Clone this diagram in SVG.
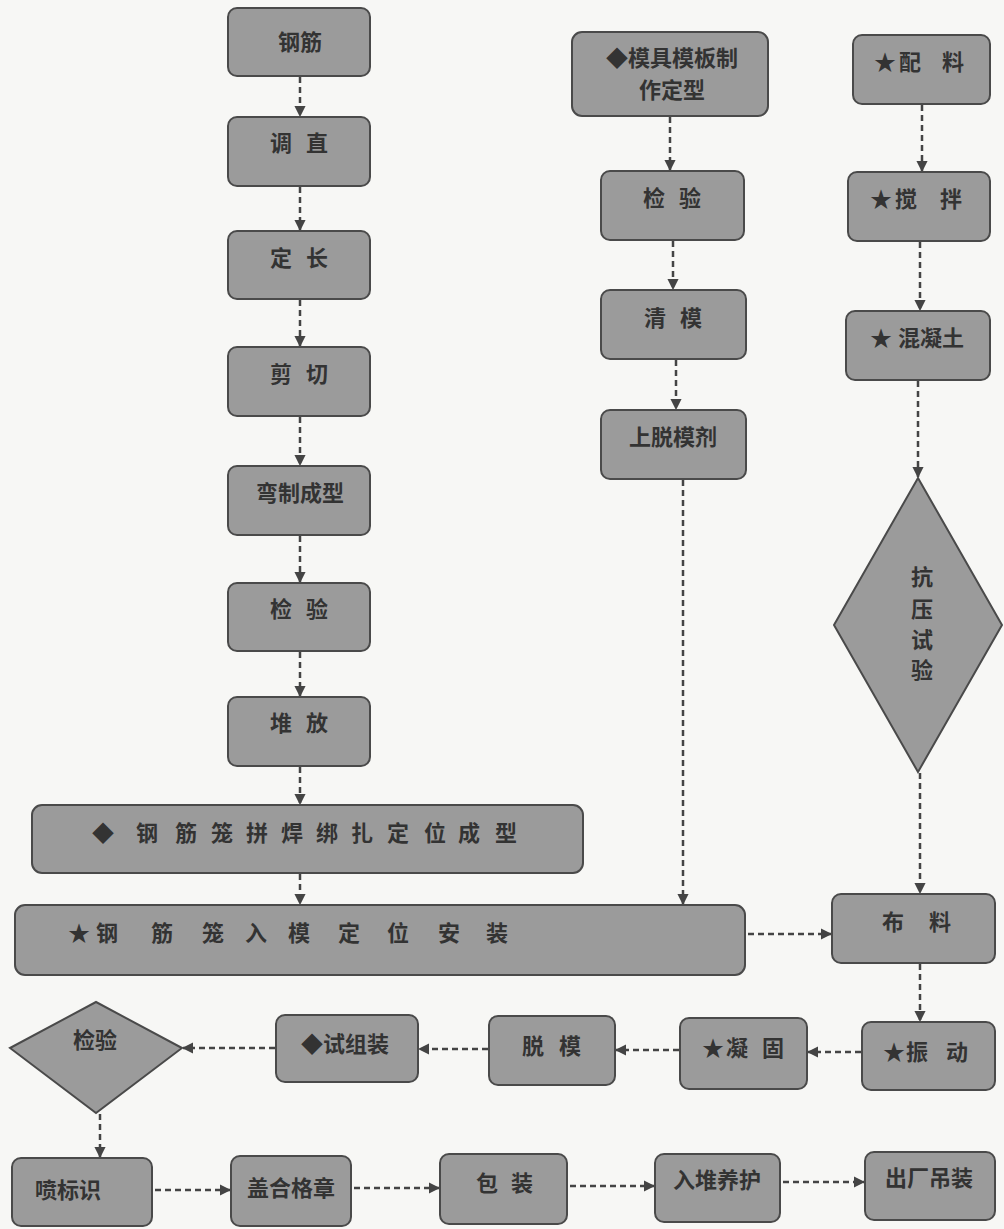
<svg xmlns="http://www.w3.org/2000/svg" width="1004" height="1229" viewBox="0 0 1004 1229">
<defs>
<style>
.n{fill:#9b9b9b;stroke:#4a4a4a;stroke-width:2}
.t{font-family:"Liberation Sans","Noto Sans CJK SC",sans-serif;font-size:22px;font-weight:bold;fill:#333;text-anchor:middle;dominant-baseline:central}
.w{letter-spacing:4px}
.c{fill:none;stroke:#444;stroke-width:2.5;stroke-dasharray:6 4}
</style>
<marker id="ah" viewBox="0 0 10 10" refX="9" refY="5" markerWidth="4.6" markerHeight="4.6" orient="auto" markerUnits="strokeWidth">
<path d="M0,0 L10,5 L0,10 Z" fill="#444"/>
</marker>
</defs>
<rect width="1004" height="1229" fill="#f7f7f5"/>
<g id="connectors">
<path class="c" d="M300,77 V116" marker-end="url(#ah)"/>
<path class="c" d="M300,187 V230" marker-end="url(#ah)"/>
<path class="c" d="M300,300 V346" marker-end="url(#ah)"/>
<path class="c" d="M300,417 V465" marker-end="url(#ah)"/>
<path class="c" d="M300,536 V582" marker-end="url(#ah)"/>
<path class="c" d="M300,652 V696" marker-end="url(#ah)"/>
<path class="c" d="M300,767 V804" marker-end="url(#ah)"/>
<path class="c" d="M300,874 V904" marker-end="url(#ah)"/>
<path class="c" d="M670,117 V170" marker-end="url(#ah)"/>
<path class="c" d="M673,241 V289" marker-end="url(#ah)"/>
<path class="c" d="M676,360 V409" marker-end="url(#ah)"/>
<path class="c" d="M683,480 V904" marker-end="url(#ah)"/>
<path class="c" d="M922,105 V171" marker-end="url(#ah)"/>
<path class="c" d="M920,242 V310" marker-end="url(#ah)"/>
<path class="c" d="M918,381 V477" marker-end="url(#ah)"/>
<path class="c" d="M920,773 V893" marker-end="url(#ah)"/>
<path class="c" d="M920,964 V1021" marker-end="url(#ah)"/>
<path class="c" d="M748,934 H831" marker-end="url(#ah)"/>
<path class="c" d="M861,1052 H808" marker-end="url(#ah)"/>
<path class="c" d="M679,1050 H616" marker-end="url(#ah)"/>
<path class="c" d="M488,1049 H419" marker-end="url(#ah)"/>
<path class="c" d="M275,1048 H183" marker-end="url(#ah)"/>
<path class="c" d="M100,1114 V1157" marker-end="url(#ah)"/>
<path class="c" d="M155,1190 H230" marker-end="url(#ah)"/>
<path class="c" d="M354,1188 H439" marker-end="url(#ah)"/>
<path class="c" d="M570,1186 H654" marker-end="url(#ah)"/>
<path class="c" d="M783,1182 H864" marker-end="url(#ah)"/>
</g>
<g id="n1"><rect class="n" x="228" y="8" width="142" height="68" rx="9"/><text class="t" x="300" y="42">钢筋</text></g>
<g id="n2"><rect class="n" x="228" y="117" width="142" height="69" rx="9"/><text class="t w" x="301" y="143">调 直</text></g>
<g id="n3"><rect class="n" x="228" y="231" width="142" height="68" rx="9"/><text class="t w" x="301" y="258">定 长</text></g>
<g id="n4"><rect class="n" x="228" y="347" width="142" height="69" rx="9"/><text class="t w" x="301" y="374">剪 切</text></g>
<g id="n5"><rect class="n" x="228" y="466" width="142" height="69" rx="9"/><text class="t" x="300" y="493">弯制成型</text></g>
<g id="n6"><rect class="n" x="228" y="583" width="142" height="68" rx="9"/><text class="t w" x="301" y="609">检 验</text></g>
<g id="n7"><rect class="n" x="228" y="697" width="142" height="69" rx="9"/><text class="t w" x="301" y="723">堆 放</text></g>
<g id="n8"><rect class="n" x="32" y="805" width="551" height="68" rx="10"/><text class="t" x="103 147 186 222 257 292 327 362 398 435 469 506" y="833">◆钢筋笼拼焊绑扎定位成型</text></g>
<g id="n9"><rect class="n" x="15" y="905" width="730" height="70" rx="10"/><text class="t" x="79 107 162 213 256 299 349 398 449 497" y="933">★钢筋笼入模定位安装</text></g>
<g id="m1"><rect class="n" x="572" y="32" width="196" height="84" rx="10"/><text class="t" x="672" y="58">◆模具模板制</text><text class="t" x="672" y="90">作定型</text></g>
<g id="m2"><rect class="n" x="601" y="171" width="143" height="69" rx="9"/><text class="t w" x="674" y="198">检 验</text></g>
<g id="m3"><rect class="n" x="601" y="290" width="145" height="69" rx="9"/><text class="t w" x="675" y="318">清 模</text></g>
<g id="m4"><rect class="n" x="601" y="410" width="145" height="69" rx="9"/><text class="t" x="673" y="437">上脱模剂</text></g>
<g id="r1"><rect class="n" x="853" y="35" width="137" height="69" rx="9"/><text class="t" x="885 910 953" y="62">★配料</text></g>
<g id="r2"><rect class="n" x="848" y="172" width="142" height="69" rx="9"/><text class="t" x="881 906 951" y="199">★搅拌</text></g>
<g id="r3"><rect class="n" x="846" y="311" width="144" height="69" rx="9"/><text class="t" x="917" y="338">★ 混凝土</text></g>
<g id="r4"><polygon class="n" points="918,478 1002,625 918,772 834,625"/><text class="t" x="922" y="577">抗</text><text class="t" x="922" y="609">压</text><text class="t" x="922" y="640">试</text><text class="t" x="922" y="670">验</text></g>
<g id="r5"><rect class="n" x="832" y="894" width="163" height="69" rx="9"/><text class="t" x="893 940" y="922">布料</text></g>
<g id="b1"><rect class="n" x="862" y="1022" width="133" height="68" rx="9"/><text class="t" x="894 917 957" y="1052">★振动</text></g>
<g id="b2"><rect class="n" x="680" y="1018" width="127" height="71" rx="9"/><text class="t" x="713 737 773" y="1048">★凝固</text></g>
<g id="b3"><rect class="n" x="489" y="1016" width="126" height="69" rx="9"/><text class="t" x="533 570" y="1046">脱模</text></g>
<g id="b4"><rect class="n" x="276" y="1015" width="142" height="67" rx="9"/><text class="t" x="345" y="1044">◆试组装</text></g>
<g id="b5"><polygon class="n" points="96,1002 182,1048 96,1113 10,1048"/><text class="t" x="95" y="1040">检验</text></g>
<g id="c1"><rect class="n" x="12" y="1158" width="140" height="68" rx="9"/><text class="t" x="68" y="1190">喷标识</text></g>
<g id="c2"><rect class="n" x="231" y="1156" width="120" height="70" rx="9"/><text class="t" x="291" y="1188">盖合格章</text></g>
<g id="c3"><rect class="n" x="440" y="1154" width="127" height="70" rx="9"/><text class="t" x="487 522" y="1183">包装</text></g>
<g id="c4"><rect class="n" x="655" y="1154" width="125" height="68" rx="9"/><text class="t" x="717" y="1180">入堆养护</text></g>
<g id="c5"><rect class="n" x="865" y="1152" width="130" height="68" rx="9"/><text class="t" x="929" y="1178">出厂吊装</text></g>
</svg>
